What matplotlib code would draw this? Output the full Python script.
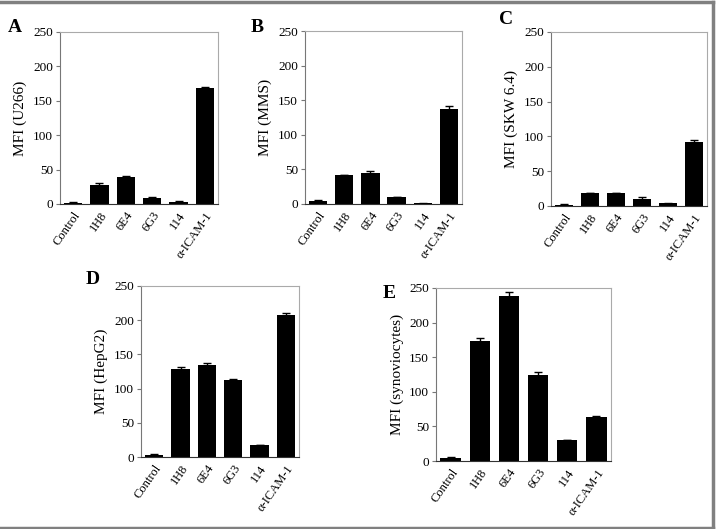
import numpy as np
import matplotlib
matplotlib.use('Agg')
import matplotlib.pyplot as plt
from matplotlib.lines import Line2D

plt.rcParams['font.family'] = ['Liberation Serif', 'DejaVu Serif']

categories = ['Control', '1H8', '6E4', '6G3', '114', 'α-ICAM-1']

mfi_u266 = [2, 28, 39, 9, 3, 168]
err_u266 = [1, 2, 2, 1.5, 1.5, 2]
mfi_mms = [5, 42, 45, 10, 1, 138]
err_mms = [1.5, 0, 3, 0, 1, 3]
mfi_skw = [2, 18, 19, 10, 4, 92]
err_skw = [0.5, 0, 0, 3, 1, 3]
mfi_hepg2 = [3, 128, 135, 113, 17, 208]
err_hepg2 = [1, 3, 2, 1.5, 0, 3]
mfi_syno = [5, 174, 239, 124, 31, 63]
err_syno = [1, 4, 5, 4, 0, 2]

W, H = 716, 529
# (letter, ylabel, values, errors, axes box in pixels: left, right, top, bottom, letter x, letter y)
panels = [
    ('A', 'MFI (U266)', mfi_u266, err_u266, (60, 218, 32, 204), (8, 27)),
    ('B', 'MFI (MMS)', mfi_mms, err_mms, (305, 462, 31, 204), (251, 27)),
    ('C', 'MFI (SKW 6.4)', mfi_skw, err_skw, (551, 707, 32, 206), (499, 19)),
    ('D', 'MFI (HepG2)', mfi_hepg2, err_hepg2, (141, 299, 286, 457), (86, 280)),
    ('E', 'MFI (synoviocytes)', mfi_syno, err_syno, (436, 611, 288, 461), (383, 294)),
]

fig = plt.figure(figsize=(W / 100, H / 100), dpi=100)

for letter, ylab, vals, errs, (l, r, t, b), (lx, ly) in panels:
    ax = fig.add_axes([l / W, 1 - b / H, (r - l) / W, (b - t) / H])
    x = np.arange(len(categories))
    ax.bar(x, vals, width=0.7, color='black', yerr=errs,
           error_kw=dict(ecolor='black', elinewidth=1, capsize=3, capthick=1))
    ax.set_xlim(-0.5, len(categories) - 0.5)
    ax.set_ylim(0, 250)
    ax.set_yticks(range(0, 251, 50))
    ax.set_xticks(x)
    ax.set_xticklabels(categories, rotation=55, ha='right', rotation_mode='anchor',
                       fontsize=9)
    ax.tick_params(axis='x', length=0, pad=4)
    ax.tick_params(axis='y', length=3, width=0.8, color='#777777', labelsize=9.5, pad=2)
    ax.set_ylabel(ylab, fontsize=11, labelpad=4)
    for side in ('top', 'right'):
        ax.spines[side].set_color('#aaaaaa')
        ax.spines[side].set_linewidth(0.8)
    ax.spines['left'].set_color('#777777')
    ax.spines['bottom'].set_color('#333333')
    fig.text(lx / W, 1 - ly / H, letter, fontsize=14, fontweight='bold', va='center')

# outer frame (top, right, bottom)
frame = dict(color='#808080', linewidth=2.5, transform=fig.transFigure)
fig.add_artist(Line2D([0, 713 / W], [1 - 1.5 / H] * 2, **frame))
fig.add_artist(Line2D([713 / W] * 2, [1 - 1.5 / H, 1 - 527.5 / H], **frame))
fig.add_artist(Line2D([0, 713 / W], [1 - 527.5 / H] * 2, **frame))

fig.savefig('out.png', dpi=100)
